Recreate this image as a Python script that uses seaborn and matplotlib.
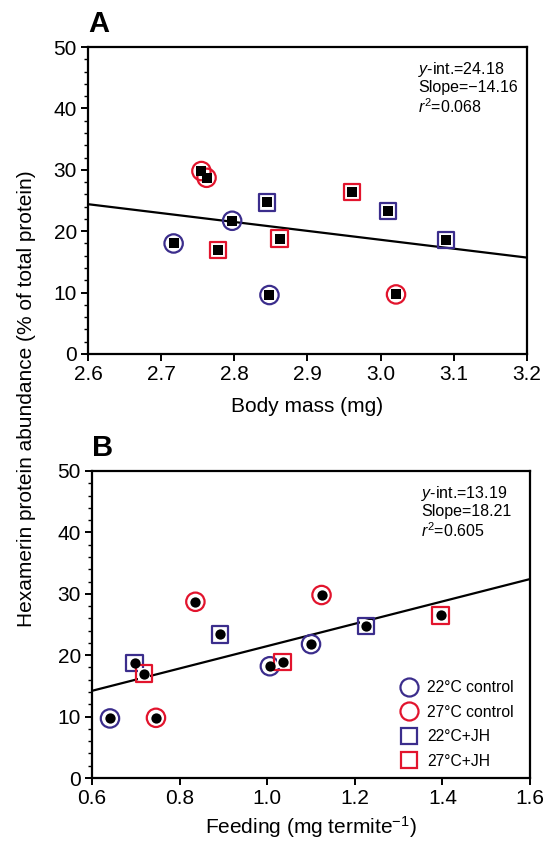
import numpy as np
import pandas as pd
import matplotlib
matplotlib.use('Agg')
import matplotlib.pyplot as plt
from matplotlib.lines import Line2D
from matplotlib.ticker import MultipleLocator
import seaborn as sns

# panel A: body mass (mg) vs hexamerin abundance
mass_22_ctrl = [2.717, 2.797, 2.848]
hex_22_ctrl_a = [18.0, 21.7, 9.6]
mass_27_ctrl = [2.755, 2.762, 3.021]
hex_27_ctrl_a = [29.8, 28.7, 9.7]
mass_22_jh = [2.845, 3.010, 3.089]
hex_22_jh_a = [24.7, 23.3, 18.6]
mass_27_jh = [2.778, 2.862, 2.961]
hex_27_jh_a = [16.9, 18.8, 26.4]

# panel B: feeding (mg termite-1) vs hexamerin abundance
feed_22_ctrl = [0.641, 1.006, 1.100]
hex_22_ctrl_b = [9.7, 18.2, 21.8]
feed_27_ctrl = [0.746, 0.836, 1.124]
hex_27_ctrl_b = [9.8, 28.7, 29.8]
feed_22_jh = [0.697, 0.892, 1.226]
hex_22_jh_b = [18.7, 23.4, 24.8]
feed_27_jh = [0.719, 1.035, 1.396]
hex_27_jh_b = [17.0, 18.9, 26.5]

# fitted lines, read at the axis ends
line_a_x = [2.6, 3.2]
line_a_y = [24.4, 15.7]
line_b_x = [0.6, 1.6]
line_b_y = [14.2, 32.4]

stats_a = ['$\\mathit{y}$-int.=24.18', 'Slope=\u221214.16', '$\\mathit{r}^2$=0.068']
stats_b = ['$\\mathit{y}$-int.=13.19', 'Slope=18.21', '$\\mathit{r}^2$=0.605']

group_names = ['22\u00b0C control', '27\u00b0C control', '22\u00b0C+JH', '27\u00b0C+JH']

BLUE = '#3b2d8c'
RED = '#e2142d'
group_style = {
    '22\u00b0C control': ('o', BLUE),
    '27\u00b0C control': ('o', RED),
    '22\u00b0C+JH': ('s', BLUE),
    '27\u00b0C+JH': ('s', RED),
}

sns.set_theme(style='ticks')
plt.rcParams['font.family'] = ['Liberation Sans', 'DejaVu Sans']
plt.rcParams['mathtext.fontset'] = 'custom'
plt.rcParams['mathtext.rm'] = 'Liberation Sans'
plt.rcParams['mathtext.it'] = 'Liberation Sans:italic'
for key in ['text.color', 'axes.labelcolor', 'xtick.color', 'ytick.color', 'axes.edgecolor']:
    plt.rcParams[key] = 'black'

FS = 15


def make_df(xs, ys):
    rows = []
    for name, x, y in zip(group_names, xs, ys):
        for xi, yi in zip(x, y):
            rows.append({'x': xi, 'y': yi, 'group': name})
    return pd.DataFrame(rows)


df_a = make_df([mass_22_ctrl, mass_27_ctrl, mass_22_jh, mass_27_jh],
               [hex_22_ctrl_a, hex_27_ctrl_a, hex_22_jh_a, hex_27_jh_a])
df_b = make_df([feed_22_ctrl, feed_27_ctrl, feed_22_jh, feed_27_jh],
               [hex_22_ctrl_b, hex_27_ctrl_b, hex_22_jh_b, hex_27_jh_b])


def draw_panel(ax, df, line_x, line_y, inner_marker, inner_size, stats):
    sns.lineplot(x=line_x, y=line_y, color='black', linewidth=1.6, ax=ax)
    for name in group_names:
        marker, col = group_style[name]
        sub = df[df['group'] == name]
        size = 175 if marker == 'o' else 140
        sns.scatterplot(data=sub, x='x', y='y', marker=marker, s=size,
                        facecolor='none', edgecolor=col, linewidth=1.6,
                        ax=ax, zorder=3)
        if marker == 's':
            # white interior so the square reads as a frame
            sns.scatterplot(data=sub, x='x', y='y', marker='s', s=size * 0.55,
                            color='white', linewidth=0, ax=ax, zorder=3)
    sns.scatterplot(data=df, x='x', y='y', marker=inner_marker, s=inner_size,
                    color='black', linewidth=0, ax=ax, zorder=4)
    ax.text(0.752, 0.958, '\n'.join(stats), transform=ax.transAxes,
            fontsize=11.5, va='top', ha='left', linespacing=1.12)
    ax.set_ylim(0, 50)
    ax.yaxis.set_major_locator(MultipleLocator(10))
    ax.yaxis.set_minor_locator(MultipleLocator(2))
    for sp in ax.spines.values():
        sp.set_linewidth(1.6)
        sp.set_visible(True)
    ax.tick_params(axis='both', which='major', length=5, width=1.4,
                   labelsize=FS, direction='out', pad=3)
    ax.tick_params(axis='y', which='minor', length=3, width=1.0, direction='out')
    ax.set_ylabel('')


fig = plt.figure(figsize=(5.55, 8.43), dpi=100)
ax_a = fig.add_axes([0.1586, 0.5801, 0.7909, 0.3641])
ax_b = fig.add_axes([0.1658, 0.0771, 0.7892, 0.3642])

draw_panel(ax_a, df_a, line_a_x, line_a_y, 's', 45, stats_a)
ax_a.set_xlim(2.6, 3.2)
ax_a.set_xticks([2.6, 2.7, 2.8, 2.9, 3.0, 3.1, 3.2])
ax_a.set_xticklabels(['2.6', '2.7', '2.8', '2.9', '3.0', '3.1', '3.2'])
ax_a.set_xlabel('Body mass (mg)', fontsize=FS, labelpad=9)

draw_panel(ax_b, df_b, line_b_x, line_b_y, 'o', 55, stats_b)
ax_b.set_xlim(0.6, 1.6)
ax_b.set_xticks([0.6, 0.8, 1.0, 1.2, 1.4, 1.6])
ax_b.set_xticklabels(['0.6', '0.8', '1.0', '1.2', '1.4', '1.6'])
ax_b.set_xlabel('Feeding (mg termite$^{\u22121}$)', fontsize=FS, labelpad=4)

handles = []
for name in group_names:
    marker, col = group_style[name]
    handles.append(Line2D([], [], linestyle='none', marker=marker,
                          markersize=13 if marker == 'o' else 12,
                          markerfacecolor='none', markeredgecolor=col,
                          markeredgewidth=1.6, label=name))
ax_b.legend(handles=handles, loc='lower left', frameon=False, fontsize=11.3,
            handlelength=1.2, handletextpad=0.6, labelspacing=0.6,
            borderaxespad=0.0, bbox_to_anchor=(0.687, 0.01))

ax_a.text(0.0, 1.03, 'A', transform=ax_a.transAxes, fontsize=21,
          fontweight='bold', ha='left', va='bottom')
ax_b.text(0.0, 1.03, 'B', transform=ax_b.transAxes, fontsize=21,
          fontweight='bold', ha='left', va='bottom')

fig.text(0.048, 0.527, 'Hexamerin protein abundance (% of total protein)',
         rotation=90, ha='center', va='center', fontsize=FS)

fig.savefig('out.png', dpi=100)
